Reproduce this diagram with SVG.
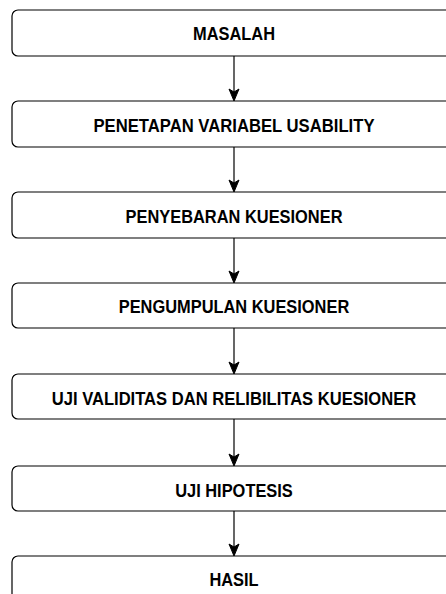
<svg xmlns="http://www.w3.org/2000/svg" width="446" height="594" viewBox="0 0 446 594">
<style>
.box{fill:#fff;stroke:#000;stroke-width:1.2}
.lbl{font-family:"Liberation Sans",Arial,Helvetica,sans-serif;font-weight:bold;font-size:18px;fill:#000;text-anchor:middle}
.edge{stroke:#000;stroke-width:1.2;fill:none}
.head{fill:#000;stroke:#000;stroke-width:1}
</style>
<rect width="446" height="594" fill="#fff"/>
<g id="n1"><rect class="box" x="12" y="10" width="444" height="46" rx="6"/><text class="lbl" x="234" y="40" textLength="82" lengthAdjust="spacingAndGlyphs">MASALAH</text></g>
<g id="n2"><rect class="box" x="12" y="101" width="444" height="46" rx="6"/><text class="lbl" x="234" y="131.5" textLength="281" lengthAdjust="spacingAndGlyphs">PENETAPAN VARIABEL USABILITY</text></g>
<g id="n3"><rect class="box" x="12" y="192" width="444" height="46" rx="6"/><text class="lbl" x="234" y="222.5" textLength="217" lengthAdjust="spacingAndGlyphs">PENYEBARAN KUESIONER</text></g>
<g id="n4"><rect class="box" x="12" y="283" width="444" height="45" rx="6"/><text class="lbl" x="234" y="313" textLength="230.5" lengthAdjust="spacingAndGlyphs">PENGUMPULAN KUESIONER</text></g>
<g id="n5"><rect class="box" x="12" y="374" width="444" height="45" rx="6"/><text class="lbl" x="234" y="405" textLength="364.5" lengthAdjust="spacingAndGlyphs">UJI VALIDITAS DAN RELIBILITAS KUESIONER</text></g>
<g id="n6"><rect class="box" x="12" y="466" width="444" height="45" rx="6"/><text class="lbl" x="234" y="496.5" textLength="117.6" lengthAdjust="spacingAndGlyphs">UJI HIPOTESIS</text></g>
<g id="n7"><rect class="box" x="12" y="556" width="444" height="46" rx="6"/><text class="lbl" x="234" y="586" textLength="49.2" lengthAdjust="spacingAndGlyphs">HASIL</text></g>
<g id="edges">
<path class="edge" d="M234 56V92"/><path class="head" d="M229 89L234 101L239 89L234 92Z"/>
<path class="edge" d="M234 147V183"/><path class="head" d="M229 180L234 192L239 180L234 183Z"/>
<path class="edge" d="M234 238V274"/><path class="head" d="M229 271L234 283L239 271L234 274Z"/>
<path class="edge" d="M234 328V365"/><path class="head" d="M229 362L234 374L239 362L234 365Z"/>
<path class="edge" d="M234 419V457"/><path class="head" d="M229 454L234 466L239 454L234 457Z"/>
<path class="edge" d="M234 511V547"/><path class="head" d="M229 544L234 556L239 544L234 547Z"/>
</g>
</svg>
